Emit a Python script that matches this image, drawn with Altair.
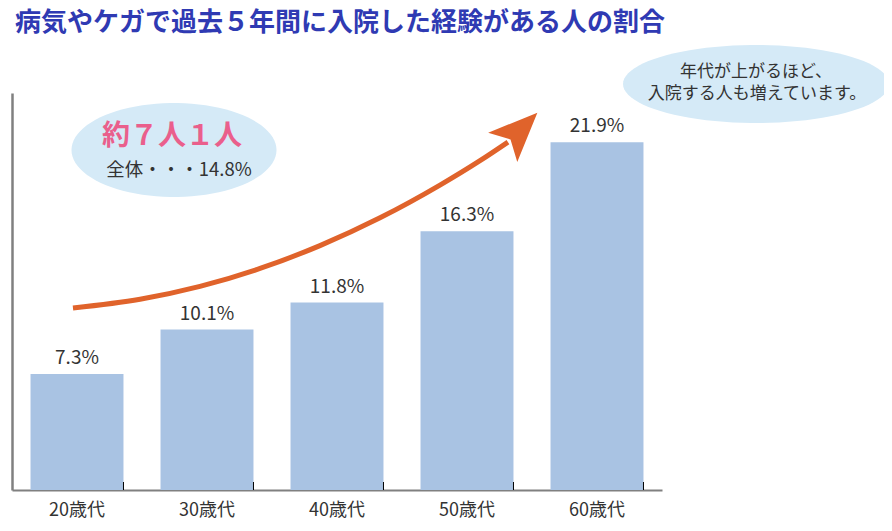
import math
import altair as alt
import pandas as pd

FONT = "Noto Sans CJK JP"

categories = ["20歳代", "30歳代", "40歳代", "50歳代", "60歳代"]
values = [7.3, 10.1, 11.8, 16.3, 21.9]
labels = ["7.3%", "10.1%", "11.8%", "16.3%", "21.9%"]

# arrow path in (category index, %) coordinates
arrow_x = [0.469, 0.985, 1.446, 1.908, 2.369, 2.831, 3.292, 3.600, 3.815]
arrow_y = [11.46, 12.01, 12.82, 13.95, 15.39, 17.14, 19.20, 20.74, 21.91]
head_x = [3.908]
head_y = [22.67]

title_text = "病気やケガで過去５年間に入院した経験がある人の割合"
bubble1_big = "約７人１人"
bubble1_small = "全体・・・14.8%"
bubble2_lines = ["年代が上がるほど、", "入院する人も増えています。"]

W, H = 650, 397


def ellipse_path(ry, n=90):
    pts = []
    for i in range(n):
        t = 2 * math.pi * i / n
        pts.append(f"{math.cos(t):.4f} {ry * math.sin(t):.4f}")
    return "M " + " L ".join(pts) + " Z"


df = pd.DataFrame({"cat": categories, "val": values, "lab": labels})
arrow_df = pd.DataFrame({"ax": arrow_x, "ay": arrow_y, "o": list(range(len(arrow_x)))})
head_df = pd.DataFrame({"ax": head_x, "ay": head_y})

xband = alt.X(
    "cat:N",
    sort=categories,
    scale=alt.Scale(paddingInner=0.285, paddingOuter=0.1425),
    axis=alt.Axis(
        title=None,
        labelAngle=0,
        ticks=False,
        labelPadding=11,
        labelFont=FONT,
        labelFontSize=18,
        labelColor="#333333",
        domainColor="#808080",
        domainWidth=2,
        grid=False,
    ),
)


def y_axis():
    return alt.Axis(
        title=None, labels=False, ticks=False, grid=False,
        domainColor="#808080", domainWidth=2.5,
    )


yq = alt.Y(
    "val:Q",
    scale=alt.Scale(domain=[0, 25], nice=False, zero=True),
    axis=y_axis(),
)

bars = alt.Chart(df).mark_bar(color="#a9c3e3").encode(x=xband, y=yq)
vlabels = alt.Chart(df).mark_text(
    baseline="bottom", dy=-6, font=FONT, fontSize=19, color="#333333"
).encode(x=alt.X("cat:N", sort=categories), y="val:Q", text="lab:N")
ticks = alt.Chart(df).mark_rule(color="#000000", strokeWidth=1).encode(
    x=alt.X("cat:N", sort=categories, bandPosition=1),
    y=alt.value(H - 8),
    y2=alt.value(H),
)

band_layer = alt.layer(bars, vlabels, ticks)

xq = alt.X("ax:Q", scale=alt.Scale(domain=[0, 5], nice=False, zero=False), axis=None)
yq2 = alt.Y("ay:Q", axis=y_axis())

curve = alt.Chart(arrow_df).mark_line(
    color="#e0632b", strokeWidth=5, interpolate="monotone", strokeCap="butt"
).encode(x=xq, y=yq2, order="o:Q")
head = alt.Chart(head_df).mark_point(
    shape="M 0 -1 L 0.84 1 L 0 0.55 L -0.84 1 Z",
    filled=True, opacity=1, color="#e0632b", size=2401, angle=45, strokeWidth=0,
).encode(x=xq, y=yq2)

one = alt.Data(values=[{"a": 1}])

ell1 = alt.Chart(one).mark_point(
    shape=ellipse_path(94 / 205), filled=True, opacity=1, color="#d5eaf7",
    size=205 ** 2, strokeWidth=0,
).encode(x=alt.value(162), y=alt.value(57))
ell2 = alt.Chart(one).mark_point(
    shape=ellipse_path(78 / 266), filled=True, opacity=1, color="#d5eaf7",
    size=266 ** 2, strokeWidth=0,
).encode(x=alt.value(744), y=alt.value(-9))

t_big = alt.Chart(one).mark_text(
    text=bubble1_big, font=FONT, fontSize=28, fontWeight="bold", color="#ea5f8c",
    align="center", baseline="middle",
).encode(x=alt.value(160), y=alt.value(44))
t_small = alt.Chart(one).mark_text(
    text=bubble1_small, font=FONT, fontSize=18.5, color="#333333",
    align="center", baseline="middle",
).encode(x=alt.value(167), y=alt.value(77))
t_r1 = alt.Chart(one).mark_text(
    text=bubble2_lines[0], font=FONT, fontSize=17, color="#333333",
    align="center", baseline="middle",
).encode(x=alt.value(744), y=alt.value(-21))
t_r2 = alt.Chart(one).mark_text(
    text=bubble2_lines[1], font=FONT, fontSize=17, color="#333333",
    align="center", baseline="middle",
).encode(x=alt.value(745), y=alt.value(1))
t_title = alt.Chart(one).mark_text(
    text=title_text, font=FONT, fontSize=26, fontWeight="bold", color="#2f3ab3",
    align="left", baseline="middle",
).encode(x=alt.value(3), y=alt.value(-70))

annot = alt.layer(ell1, ell2, curve, head, t_big, t_small, t_r1, t_r2, t_title)

chart = (
    alt.layer(band_layer, annot)
    .resolve_scale(x="independent")
    .properties(
        width=W,
        height=H,
        autosize=alt.AutoSizeParams(type="none"),
        padding={"left": 4, "top": 85, "right": 222, "bottom": 33},
        view=alt.ViewBackground(stroke="transparent", strokeWidth=0),
    )
    .configure_view(stroke="transparent", strokeWidth=0)
    .configure(background="white")
)

chart.save("out.html", embed_options={"renderer": "svg", "actions": False})
